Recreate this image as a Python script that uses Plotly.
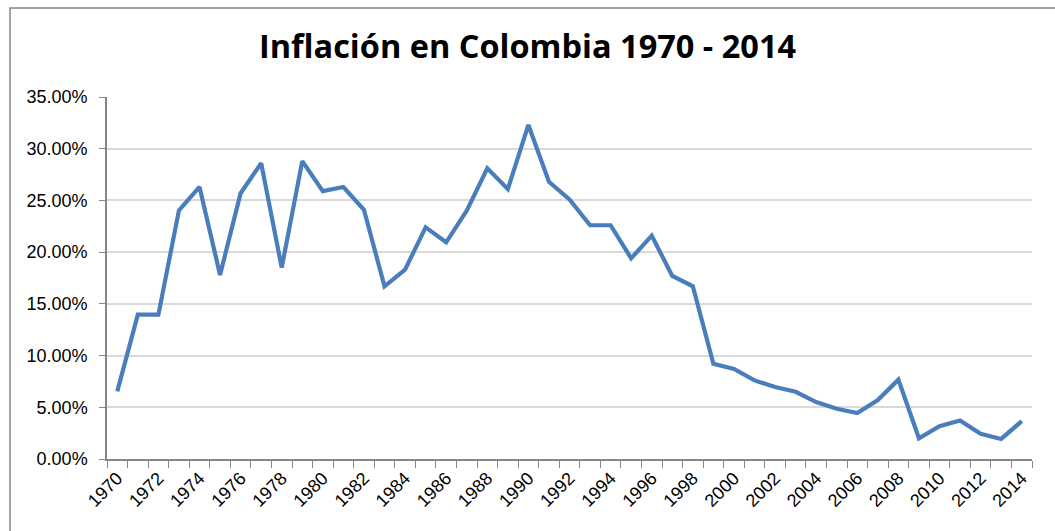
import plotly.graph_objects as go

years = list(range(1970, 2015))
inflation = [6.54, 13.95, 13.95, 24.04, 26.3, 17.8, 25.7, 28.6, 18.5, 28.8,
             25.9, 26.3, 24.1, 16.7, 18.3, 22.4, 20.95, 24.0, 28.1, 26.1,
             32.3, 26.8, 25.1, 22.6, 22.6, 19.4, 21.6, 17.7, 16.7, 9.2,
             8.7, 7.6, 6.96, 6.5, 5.5, 4.85, 4.45, 5.7, 7.67, 2.0,
             3.17, 3.73, 2.44, 1.94, 3.66]
inflation = [v / 100 for v in inflation]
tick_years = list(range(1970, 2015, 2))
y_ticks = [i * 0.05 for i in range(8)]
title_text = "Inflación en Colombia 1970 - 2014"

fig = go.Figure()
fig.add_trace(go.Scatter(x=years, y=inflation, mode="lines",
                         line=dict(color="#4A7EBB", width=4.2), showlegend=False))

fig.update_layout(
    width=1055, height=531,
    margin=dict(l=107, r=23, t=97, b=72, autoexpand=False),
    paper_bgcolor="white", plot_bgcolor="white",
    title=dict(text="<b>" + title_text + "</b>", x=0.5, xanchor="center",
               y=1 - 47 / 531, yanchor="middle",
               font=dict(family="Open Sans", size=32.5, color="#000000")),
    font=dict(family="Liberation Sans", size=18, color="#000000"),
)
fig.update_xaxes(
    range=[1969.5, 2014.5], tickmode="array", tickvals=tick_years,
    ticktext=[str(y) for y in tick_years], tickangle=-45, ticks="",
    showline=True, linecolor="#868686", linewidth=1.5, showgrid=False,
    zeroline=False, tickfont=dict(size=18), automargin=False,
    minor=dict(ticks="outside", tick0=1969.5, dtick=1, ticklen=7,
               tickcolor="#868686", tickwidth=1.3, showgrid=False),
)
fig.update_yaxes(
    range=[0, 0.35], tickmode="array", tickvals=y_ticks,
    ticktext=[f"{v*100:.2f}%" for v in y_ticks],
    ticks="outside", ticklen=6, tickcolor="#868686", tickwidth=1.3,
    showline=True, linecolor="#868686", linewidth=1.5,
    showgrid=True, gridcolor="#D9D9D9", gridwidth=1.5, zeroline=False,
    tickfont=dict(size=18), ticklabelstandoff=8, automargin=False,
)
fig.add_shape(type="rect", xref="paper", yref="paper",
              x0=(10 - 107) / 925, x1=(1070 - 107) / 925,
              y0=(459 - 545) / 362, y1=(459 - 8) / 362,
              line=dict(color="#868686", width=1.5), layer="below")

fig.write_html("out.html", config={"displayModeBar": False},
               post_script="document.body.style.margin='0px';document.body.style.overflow='hidden';")
